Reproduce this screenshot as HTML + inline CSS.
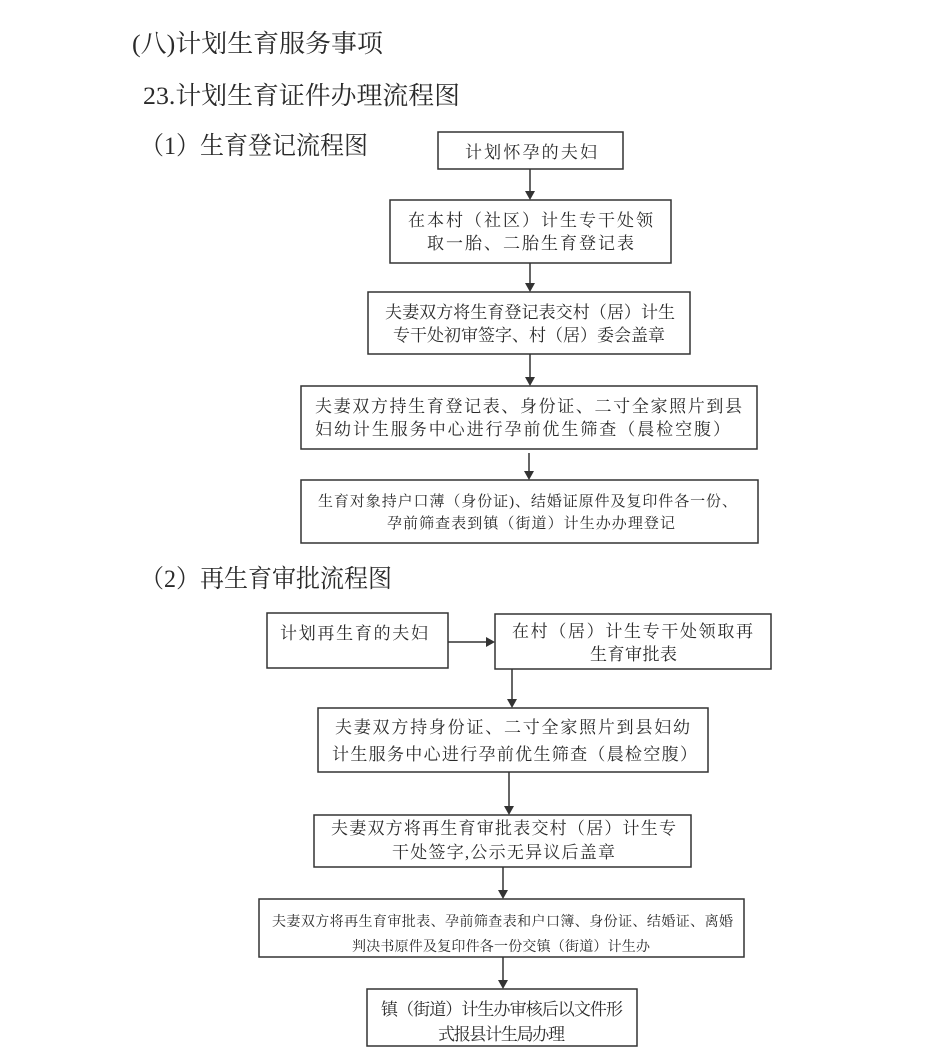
<!DOCTYPE html>
<html><head><meta charset="utf-8"><style>
html,body{margin:0;padding:0;background:#fff;}
svg{display:block;}
text{font-family:"Liberation Serif","Noto Serif CJK SC","Noto Sans CJK SC",serif;fill:#2a2a2a;}
.h{font-size:25px;}
.t{font-size:17px;}
.s{font-size:15px;}
.xs{font-size:14px;}
rect{fill:none;stroke:#333;stroke-width:1.5;}
line{stroke:#333;stroke-width:1.5;}
polygon{fill:#333;}
</style></head><body>
<svg width="950" height="1059" viewBox="0 0 950 1059" xmlns="http://www.w3.org/2000/svg">
<text class="h" x="132" y="52" textLength="251" lengthAdjust="spacingAndGlyphs">(八)计划生育服务事项</text>
<text class="h" x="143" y="104" textLength="317" lengthAdjust="spacingAndGlyphs">23.计划生育证件办理流程图</text>
<text class="h" x="140" y="154" textLength="228" lengthAdjust="spacingAndGlyphs">（1）生育登记流程图</text>
<text class="h" x="140" y="587" textLength="252" lengthAdjust="spacingAndGlyphs">（2）再生育审批流程图</text>

<!-- section 1 -->
<rect x="438" y="132" width="185" height="37"/>
<text class="t" x="465" y="158" textLength="132" lengthAdjust="spacing">计划怀孕的夫妇</text>
<line x1="530" y1="169" x2="530" y2="192"/><polygon points="525,191 535,191 530,200"/>

<rect x="390" y="200" width="281" height="63"/>
<text class="t" x="408" y="226" textLength="245" lengthAdjust="spacing">在本村（社区）计生专干处领</text>
<text class="t" x="427" y="249" textLength="207" lengthAdjust="spacing">取一胎、二胎生育登记表</text>
<line x1="530" y1="263" x2="530" y2="284"/><polygon points="525,283 535,283 530,292"/>

<rect x="368" y="292" width="322" height="62"/>
<text class="t" x="385" y="318" textLength="290" lengthAdjust="spacing">夫妻双方将生育登记表交村（居）计生</text>
<text class="t" x="393" y="341" textLength="272" lengthAdjust="spacing">专干处初审签字、村（居）委会盖章</text>
<line x1="530" y1="354" x2="530" y2="378"/><polygon points="525,377 535,377 530,386"/>

<rect x="301" y="386" width="456" height="63"/>
<text class="t" x="315" y="412" textLength="427" lengthAdjust="spacing">夫妻双方持生育登记表、身份证、二寸全家照片到县</text>
<text class="t" x="315" y="435" textLength="415" lengthAdjust="spacing">妇幼计生服务中心进行孕前优生筛查（晨检空腹）</text>
<line x1="529" y1="453" x2="529" y2="472"/><polygon points="524,471 534,471 529,480"/>

<rect x="301" y="480" width="457" height="63"/>
<text class="s" x="318" y="506" textLength="419" lengthAdjust="spacing">生育对象持户口薄（身份证)、结婚证原件及复印件各一份、</text>
<text class="s" x="387" y="528" textLength="288" lengthAdjust="spacing">孕前筛查表到镇（街道）计生办办理登记</text>

<!-- section 2 -->
<rect x="267" y="613" width="181" height="55"/>
<text class="t" x="280" y="639" textLength="148" lengthAdjust="spacing">计划再生育的夫妇</text>
<line x1="448" y1="642" x2="487" y2="642"/><polygon points="486,637 486,647 495,642"/>

<rect x="495" y="614" width="276" height="55"/>
<text class="t" x="512" y="637" textLength="241" lengthAdjust="spacing">在村（居）计生专干处领取再</text>
<text class="t" x="590" y="660" textLength="87" lengthAdjust="spacing">生育审批表</text>
<line x1="512" y1="669" x2="512" y2="700"/><polygon points="507,699 517,699 512,708"/>

<rect x="318" y="708" width="390" height="64"/>
<text class="t" x="335" y="733" textLength="355" lengthAdjust="spacing">夫妻双方持身份证、二寸全家照片到县妇幼</text>
<text class="t" x="332" y="760" textLength="365" lengthAdjust="spacing">计生服务中心进行孕前优生筛查（晨检空腹）</text>
<line x1="509" y1="772" x2="509" y2="807"/><polygon points="504,806 514,806 509,815"/>

<rect x="314" y="815" width="377" height="52"/>
<text class="t" x="331" y="834" textLength="345" lengthAdjust="spacing">夫妻双方将再生育审批表交村（居）计生专</text>
<text class="t" x="392" y="858" textLength="223" lengthAdjust="spacing">干处签字,公示无异议后盖章</text>
<line x1="503" y1="867" x2="503" y2="891"/><polygon points="498,890 508,890 503,899"/>

<rect x="259" y="899" width="485" height="58"/>
<text class="xs" x="272" y="926" textLength="461" lengthAdjust="spacing">夫妻双方将再生育审批表、孕前筛查表和户口簿、身份证、结婚证、离婚</text>
<text class="xs" x="352" y="951" textLength="298" lengthAdjust="spacing">判决书原件及复印件各一份交镇（街道）计生办</text>
<line x1="503" y1="957" x2="503" y2="981"/><polygon points="498,980 508,980 503,989"/>

<rect x="367" y="989" width="270" height="57"/>
<text class="t" x="381" y="1015" textLength="242" lengthAdjust="spacing">镇（街道）计生办审核后以文件形</text>
<text class="t" x="438" y="1040" textLength="127" lengthAdjust="spacing">式报县计生局办理</text>
</svg>
</body></html>
